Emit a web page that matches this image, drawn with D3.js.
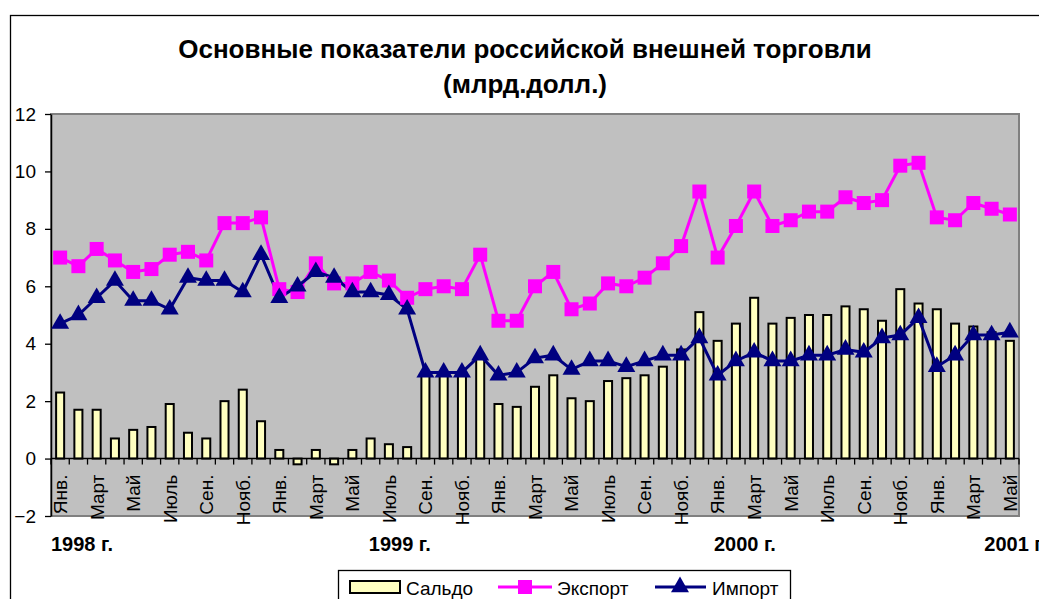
<!DOCTYPE html>
<html lang="ru">
<head>
<meta charset="UTF-8">
<title>Основные показатели российской внешней торговли</title>
<script src="https://d3js.org/d3.v7.min.js"></script>
<style>
    body { margin: 0; padding: 0; background: #fff; overflow: hidden; }
    svg { display: block; font-family: Arial, "Liberation Sans", sans-serif; }
</style>
</head>
<body>
<script>
    // месяцы (подписи показываются через один)
    const monthNames = ["Янв.", "Фев.", "Март", "Апр.", "Май", "Июнь", "Июль", "Авг.", "Сен.", "Окт.", "Нояб.", "Дек."];
    const nMonths = 53; // янв. 1997 - май 2001
    const months = d3.range(nMonths).map(i => monthNames[i % 12]);

    const exportVals = [7.0, 6.7, 7.3, 6.9, 6.5, 6.6, 7.1, 7.2, 6.9, 8.2, 8.2, 8.4,
        5.9, 5.8, 6.8, 6.1, 6.1, 6.5, 6.2, 5.6, 5.9, 6.0, 5.9, 7.1,
        4.8, 4.8, 6.0, 6.5, 5.2, 5.4, 6.1, 6.0, 6.3, 6.8, 7.4, 9.3,
        7.0, 8.1, 9.3, 8.1, 8.3, 8.6, 8.6, 9.1, 8.9, 9.0, 10.2, 10.3,
        8.4, 8.3, 8.9, 8.7, 8.5];

    const importVals = [4.7, 5.0, 5.6, 6.2, 5.5, 5.5, 5.2, 6.3, 6.2, 6.2, 5.8, 7.1,
        5.6, 6.0, 6.5, 6.3, 5.8, 5.8, 5.7, 5.2, 3.0, 3.0, 3.0, 3.6,
        2.9, 3.0, 3.5, 3.6, 3.1, 3.4, 3.4, 3.2, 3.4, 3.6, 3.6, 4.2,
        2.9, 3.4, 3.7, 3.4, 3.4, 3.6, 3.6, 3.8, 3.7, 4.2, 4.3, 4.9,
        3.2, 3.6, 4.3, 4.3, 4.4];

    const saldoVals = [2.3, 1.7, 1.7, 0.7, 1.0, 1.1, 1.9, 0.9, 0.7, 2.0, 2.4, 1.3,
        0.3, -0.2, 0.3, -0.2, 0.3, 0.7, 0.5, 0.4, 2.9, 3.0, 2.9, 3.5,
        1.9, 1.8, 2.5, 2.9, 2.1, 2.0, 2.7, 2.8, 2.9, 3.2, 3.8, 5.1,
        4.1, 4.7, 5.6, 4.7, 4.9, 5.0, 5.0, 5.3, 5.2, 4.8, 5.9, 5.4,
        5.2, 4.7, 4.6, 4.4, 4.1];

    const yTicks = [-2, 0, 2, 4, 6, 8, 10, 12];

    // подписи годов и их положение (в месяцах от левого края)
    const yearLabels = ["1998 г.", "1999 г.", "2000 г.", "2001 г."];
    const yearPos = [0, 17.4, 36.3, 51.1];

    const width = 1039, height = 599;
    const plot = { left: 51, right: 1019, top: 114, bottom: 516 };

    const svg = d3.select("body").append("svg")
        .attr("width", width)
        .attr("height", height);

    // рамка диаграммы
    svg.append("rect")
        .attr("x", 10.5).attr("y", 15.5)
        .attr("width", 1100).attr("height", 700)
        .attr("fill", "#fff")
        .attr("stroke", "#000")
        .attr("stroke-width", 1.3);

    // заголовок
    const title = svg.append("text")
        .attr("text-anchor", "middle")
        .attr("font-weight", "bold")
        .attr("font-size", 26);
    title.append("tspan").attr("x", 525).attr("y", 58).text("Основные показатели российской внешней торговли");
    title.append("tspan").attr("x", 525).attr("y", 93).text("(млрд.долл.)");

    // шкалы
    const x = d3.scaleBand()
        .domain(d3.range(nMonths))
        .range([plot.left, plot.right])
        .paddingInner(0.56)
        .paddingOuter(0.28);
    const xMonth = d3.scaleLinear().domain([0, nMonths]).range([plot.left, plot.right]);
    const y = d3.scaleLinear().domain([-2, 12]).range([plot.bottom, plot.top]);
    const cx = i => x(i) + x.bandwidth() / 2;

    // область построения
    svg.append("rect")
        .attr("x", plot.left).attr("y", plot.top)
        .attr("width", plot.right - plot.left)
        .attr("height", plot.bottom - plot.top)
        .attr("fill", "#c0c0c0")
        .attr("stroke", "#808080")
        .attr("stroke-width", 2);

    // ось Y
    const yAxis = svg.append("g")
        .attr("transform", `translate(${plot.left},0)`)
        .call(d3.axisLeft(y).tickValues(yTicks).tickSize(6).tickPadding(9).tickSizeOuter(0));
    yAxis.select(".domain").attr("stroke", "#000").attr("stroke-width", 1.5);
    yAxis.selectAll(".tick line").attr("stroke", "#000").attr("stroke-width", 1.3);
    yAxis.selectAll(".tick text")
        .attr("font-size", 19)
        .attr("font-family", "Arial, 'Liberation Sans', sans-serif")
        .attr("fill", "#000");

    // столбцы сальдо
    svg.append("g").selectAll("rect")
        .data(saldoVals)
        .join("rect")
        .attr("x", (d, i) => x(i))
        .attr("y", d => y(Math.max(0, d)))
        .attr("width", x.bandwidth())
        .attr("height", d => Math.abs(y(d) - y(0)))
        .attr("fill", "#ffffc0")
        .attr("stroke", "#000")
        .attr("stroke-width", 2);

    // ось X на уровне нуля
    const xAxisG = svg.append("g");
    xAxisG.append("line")
        .attr("x1", plot.left).attr("x2", plot.right)
        .attr("y1", y(0)).attr("y2", y(0))
        .attr("stroke", "#000").attr("stroke-width", 1.5);
    xAxisG.selectAll(".xtick")
        .data(d3.range(nMonths + 1))
        .join("line")
        .attr("class", "xtick")
        .attr("x1", d => xMonth(d)).attr("x2", d => xMonth(d))
        .attr("y1", y(0)).attr("y2", y(0) + 6)
        .attr("stroke", "#000").attr("stroke-width", 1.3);

    xAxisG.selectAll(".mlabel")
        .data(months.map((m, i) => ({ m, i })).filter(d => d.i % 2 === 0))
        .join("text")
        .attr("class", "mlabel")
        .attr("transform", d => `translate(${cx(d.i)},${y(0) + 16}) rotate(-90)`)
        .attr("text-anchor", "end")
        .attr("dy", "0.36em")
        .attr("font-size", 19)
        .text(d => d.m);

    // подписи годов
    svg.append("g").selectAll("text")
        .data(yearLabels)
        .join("text")
        .attr("x", (d, i) => xMonth(yearPos[i]))
        .attr("y", 551)
        .attr("font-weight", "bold")
        .attr("font-size", 20)
        .text(d => d);

    // линии
    const line = d3.line().x((d, i) => cx(i)).y(d => y(d));

    svg.append("path")
        .datum(exportVals)
        .attr("d", line)
        .attr("fill", "none")
        .attr("stroke", "#ff00ff")
        .attr("stroke-width", 3);

    svg.append("path")
        .datum(importVals)
        .attr("d", line)
        .attr("fill", "none")
        .attr("stroke", "#000080")
        .attr("stroke-width", 3);

    const sq = 14;
    svg.append("g").selectAll("rect")
        .data(exportVals)
        .join("rect")
        .attr("x", (d, i) => cx(i) - sq / 2)
        .attr("y", d => y(d) - sq / 2)
        .attr("width", sq).attr("height", sq)
        .attr("fill", "#ff00ff");

    const tri = d3.symbol().type(d3.symbolTriangle).size(140);
    svg.append("g").selectAll("path")
        .data(importVals)
        .join("path")
        .attr("d", tri)
        .attr("transform", (d, i) => `translate(${cx(i)},${y(d)})`)
        .attr("fill", "#000080");

    // легенда
    const legend = svg.append("g");
    legend.append("rect")
        .attr("x", 338.5).attr("y", 570.5)
        .attr("width", 452).attr("height", 45)
        .attr("fill", "#fff")
        .attr("stroke", "#000")
        .attr("stroke-width", 1.3);

    legend.append("rect")
        .attr("x", 350).attr("y", 581)
        .attr("width", 50).attr("height", 12)
        .attr("fill", "#ffffc0")
        .attr("stroke", "#000")
        .attr("stroke-width", 2);
    legend.append("text").attr("x", 406).attr("y", 595).attr("font-size", 19).text("Сальдо");

    legend.append("line")
        .attr("x1", 498).attr("x2", 552).attr("y1", 587).attr("y2", 587)
        .attr("stroke", "#ff00ff").attr("stroke-width", 3);
    legend.append("rect")
        .attr("x", 525 - sq / 2).attr("y", 587 - sq / 2)
        .attr("width", sq).attr("height", sq)
        .attr("fill", "#ff00ff");
    legend.append("text").attr("x", 557).attr("y", 595).attr("font-size", 19).text("Экспорт");

    legend.append("line")
        .attr("x1", 655).attr("x2", 706).attr("y1", 587).attr("y2", 587)
        .attr("stroke", "#000080").attr("stroke-width", 3);
    legend.append("path")
        .attr("d", tri)
        .attr("transform", "translate(680,587)")
        .attr("fill", "#000080");
    legend.append("text").attr("x", 712).attr("y", 595).attr("font-size", 19).text("Импорт");
</script>
</body>
</html>
